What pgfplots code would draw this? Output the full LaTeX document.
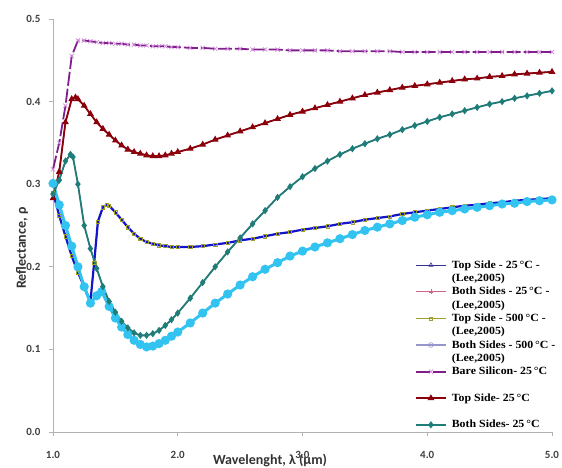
\documentclass[border=0pt]{standalone}
\usepackage{pgfplots}
\usepackage{pgfplotstable}
\usepackage{fontspec}
\pgfplotsset{compat=1.18}
\setmainfont{Liberation Serif}
\newfontfamily\legfont[FakeStretch=1.08]{Liberation Serif}
\newfontfamily\carlito{Carlito}

\definecolor{cBare}{RGB}{128,30,140}
\definecolor{cBareMk}{RGB}{210,140,220}
\definecolor{cTop}{RGB}{140,0,10}
\definecolor{cBoth}{RGB}{30,125,120}
\definecolor{cNavy}{RGB}{20,20,200}
\definecolor{cCyan}{RGB}{50,195,240}
\definecolor{cLeeTop}{RGB}{50,50,150}
\definecolor{cLeeBoth}{RGB}{205,100,140}
\definecolor{cLeeTopH}{RGB}{160,160,40}
\definecolor{cLeeBothH}{RGB}{150,150,205}

% bare silicon
\pgfplotstableread{
x y
1.00 0.318
1.05 0.350
1.10 0.395
1.15 0.455
1.20 0.474
1.25 0.474
1.30 0.473
1.35 0.472
1.40 0.471
1.45 0.471
1.50 0.470
1.55 0.470
1.60 0.469
1.65 0.469
1.70 0.468
1.75 0.468
1.80 0.467
1.85 0.467
1.90 0.467
1.95 0.466
2.00 0.466
2.10 0.465
2.20 0.465
2.30 0.464
2.40 0.464
2.50 0.464
2.60 0.463
2.70 0.463
2.80 0.463
2.90 0.462
3.00 0.462
3.10 0.462
3.20 0.462
3.30 0.461
3.40 0.461
3.50 0.461
3.60 0.461
3.70 0.461
3.80 0.460
3.90 0.460
4.00 0.460
4.10 0.460
4.20 0.460
4.30 0.460
4.40 0.460
4.50 0.460
4.60 0.460
4.70 0.460
4.80 0.460
4.90 0.460
5.00 0.460
}\bare

% top side 25 C
\pgfplotstableread{
x y
1.00 0.283
1.05 0.315
1.10 0.375
1.15 0.403
1.18 0.405
1.20 0.403
1.25 0.395
1.30 0.385
1.35 0.375
1.40 0.367
1.45 0.360
1.50 0.353
1.55 0.347
1.60 0.342
1.65 0.339
1.70 0.337
1.75 0.335
1.80 0.334
1.85 0.334
1.90 0.335
1.95 0.337
2.00 0.339
2.10 0.343
2.20 0.348
2.30 0.354
2.40 0.359
2.50 0.364
2.60 0.369
2.70 0.374
2.80 0.379
2.90 0.384
3.00 0.388
3.10 0.392
3.20 0.396
3.30 0.400
3.40 0.404
3.50 0.408
3.60 0.411
3.70 0.414
3.80 0.417
3.90 0.419
4.00 0.421
4.10 0.423
4.20 0.425
4.30 0.427
4.40 0.428
4.50 0.430
4.60 0.431
4.70 0.433
4.80 0.434
4.90 0.435
5.00 0.436
}\topt

% both sides 25 C
\pgfplotstableread{
x y
1.00 0.288
1.05 0.305
1.10 0.328
1.14 0.336
1.16 0.333
1.20 0.300
1.25 0.250
1.30 0.222
1.35 0.198
1.40 0.176
1.45 0.158
1.50 0.145
1.55 0.134
1.60 0.126
1.65 0.120
1.70 0.117
1.75 0.117
1.80 0.119
1.85 0.123
1.90 0.129
1.95 0.136
2.00 0.144
2.10 0.162
2.20 0.181
2.30 0.200
2.40 0.218
2.50 0.235
2.60 0.252
2.70 0.268
2.80 0.284
2.90 0.297
3.00 0.309
3.10 0.319
3.20 0.328
3.30 0.336
3.40 0.343
3.50 0.349
3.60 0.355
3.70 0.360
3.80 0.366
3.90 0.371
4.00 0.376
4.10 0.381
4.20 0.385
4.30 0.389
4.40 0.393
4.50 0.397
4.60 0.400
4.70 0.404
4.80 0.407
4.90 0.410
5.00 0.413
}\both

% top side 500 C
\pgfplotstableread{
x y
1.00 0.290
1.05 0.262
1.10 0.237
1.15 0.213
1.20 0.193
1.25 0.176
1.30 0.158
1.33 0.205
1.36 0.255
1.40 0.272
1.43 0.275
1.45 0.274
1.50 0.266
1.55 0.257
1.60 0.248
1.65 0.240
1.70 0.234
1.75 0.230
1.80 0.228
1.85 0.226
1.90 0.225
1.95 0.224
2.00 0.224
2.10 0.224
2.20 0.225
2.30 0.227
2.40 0.229
2.50 0.232
2.60 0.234
2.70 0.237
2.80 0.240
2.90 0.242
3.00 0.245
3.10 0.247
3.20 0.249
3.30 0.252
3.40 0.254
3.50 0.257
3.60 0.259
3.70 0.261
3.80 0.264
3.90 0.266
4.00 0.268
4.10 0.270
4.20 0.272
4.30 0.274
4.40 0.275
4.50 0.277
4.60 0.278
4.70 0.280
4.80 0.281
4.90 0.282
5.00 0.283
}\toph

% both sides 500 C
\pgfplotstableread{
x y
1.00 0.301
1.05 0.275
1.10 0.250
1.15 0.225
1.20 0.200
1.25 0.176
1.30 0.156
1.35 0.165
1.39 0.170
1.45 0.152
1.50 0.138
1.55 0.127
1.60 0.118
1.65 0.111
1.70 0.106
1.75 0.103
1.80 0.104
1.85 0.107
1.90 0.111
1.95 0.116
2.00 0.121
2.10 0.132
2.20 0.144
2.30 0.156
2.40 0.167
2.50 0.178
2.60 0.188
2.70 0.197
2.80 0.205
2.90 0.213
3.00 0.219
3.10 0.224
3.20 0.229
3.30 0.234
3.40 0.239
3.50 0.244
3.60 0.248
3.70 0.252
3.80 0.256
3.90 0.260
4.00 0.263
4.10 0.266
4.20 0.268
4.30 0.270
4.40 0.272
4.50 0.274
4.60 0.276
4.70 0.277
4.80 0.279
4.90 0.280
5.00 0.281
}\bothh

\begin{document}
\begin{tikzpicture}
\begin{axis}[
  scale only axis,
  width=499pt, height=413pt,
  xmin=1, xmax=5, ymin=0, ymax=0.5,
  xtick={1,2,3,4,5}, ytick={0,0.1,0.2,0.3,0.4,0.5},
  axis x line*=bottom, axis y line*=left,
  axis line style={black!30, line width=0.8pt},
  tick style={black!30, line width=0.8pt},
  tick align=outside, major tick length=4pt,
  clip=false,
  /pgf/number format/assume math mode=true,
  /pgf/number format/.cd, fixed, fixed zerofill, precision=1, /pgfplots/.cd,
  ticklabel style={font=\carlito\bfseries\fontsize{11}{12}\selectfont, text=black!75},
  xticklabel style={yshift=-12pt},
  yticklabel style={xshift=-5pt},
  xlabel={Wavelenght, λ (μm)},
  ylabel={Reflectance, ρ},
  every axis x label/.style={at={(axis description cs:0.435,-0.0678)}, anchor=center, font=\carlito\bfseries\fontsize{14}{16}\selectfont, text=black!80},
  every axis y label/.style={at={(axis description cs:-0.062,0.445)}, rotate=90, anchor=center, font=\carlito\bfseries\fontsize{14}{16}\selectfont, text=black!80},
  legend style={at={(axis description cs:0.7255,0.415)}, anchor=north west,
    draw=none, fill=none, inner sep=0pt, outer sep=0pt,
    nodes={inner sep=0pt},
    font=\legfont\bfseries\fontsize{11}{11}\selectfont, row sep=4.1pt, column sep=5pt},
  legend cell align=left,
  legend image code/.code={\draw[mark repeat=2,mark phase=2,#1] plot coordinates {(0pt,0pt) (15pt,0pt) (30pt,0pt)};},
]
% Lee (2005) data
\addplot[cLeeTop, line width=1.2pt, mark=triangle, mark size=2.4pt, mark options={solid, line width=0.6pt}] table[x=x,y=y]{\topt};
\addlegendentry{\strut Top Side - 25\,°C -}
\addlegendimage{empty legend}\addlegendentry{\strut(Lee,2005)}
\addplot[cLeeBoth, line width=1.2pt, mark=+, mark size=2.4pt, mark options={solid, line width=0.6pt}] table[x=x,y=y]{\both};
\addlegendentry{\strut Both Sides - 25\,°C -}
\addlegendimage{empty legend}\addlegendentry{\strut(Lee,2005)}
\addplot[cLeeTopH, line width=1.2pt, mark=square, mark size=1.6pt, mark options={solid, line width=0.5pt}] table[x=x,y=y]{\toph};
\addlegendentry{\strut Top Side - 500\,°C -}
\addlegendimage{empty legend}\addlegendentry{\strut(Lee,2005)}
\addplot[cLeeBothH, line width=1.2pt, mark=o, mark size=2.4pt, mark options={solid, line width=0.6pt}] table[x=x,y=y]{\bothh};
\addlegendentry{\strut Both Sides - 500\,°C -}
\addlegendimage{empty legend}\addlegendentry{\strut(Lee,2005)}
% 500 C model curves
\addplot[forget plot, cNavy, line width=2.2pt] table[x=x,y=y]{\toph};
\addplot[forget plot, cCyan, line width=3pt, mark=*, mark size=3pt] table[x=x,y=y]{\bothh};
% 25 C model curves
\addplot[cBare, line width=1.8pt, dash pattern=on 14pt off 3pt, mark=x, mark size=3pt, mark options={solid, draw=cBareMk, line width=0.7pt}] table[x=x,y=y]{\bare};
\addlegendentry{\strut Bare Silicon- 25\,°C}
\addlegendimage{empty legend}\addlegendentry{\strut}
\addplot[cTop, line width=1.8pt, mark=triangle*, mark size=2.2pt, mark options={solid}] table[x=x,y=y]{\topt};
\addlegendentry{\strut Top Side- 25\,°C}
\addlegendimage{empty legend}\addlegendentry{\strut}
\addplot[cBoth, line width=1.8pt, mark=diamond*, mark size=2.2pt, mark options={solid}] table[x=x,y=y]{\both};
\addlegendentry{\strut Both Sides- 25\,°C}
\end{axis}
\pgfresetboundingbox
\path[use as bounding box] (-53pt,-36pt) rectangle (509pt,432pt);
\end{tikzpicture}
\end{document}
